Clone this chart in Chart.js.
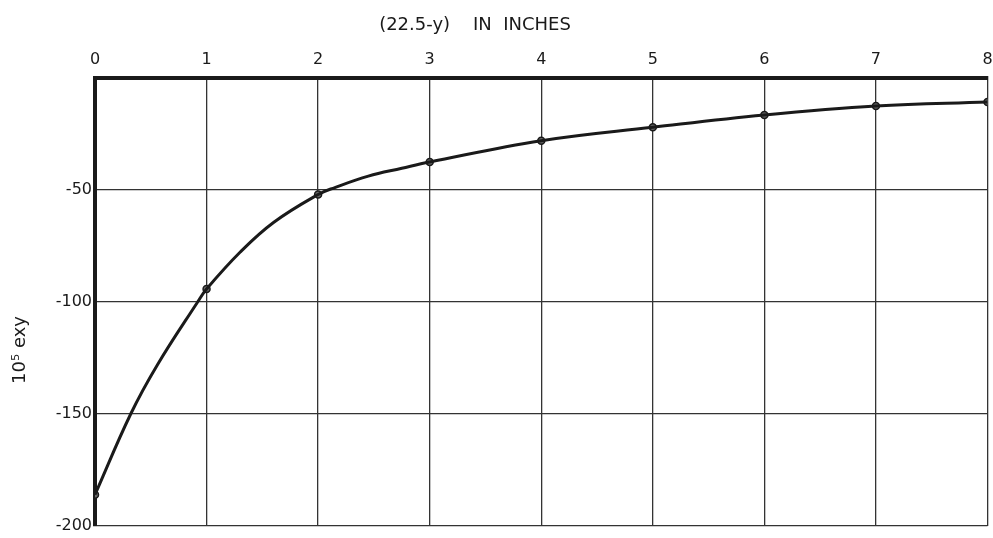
<!DOCTYPE html>
<html>
<head>
<meta charset="utf-8">
<script src="https://cdn.jsdelivr.net/npm/chart.js@4"></script>
<style>
  html, body { margin: 0; padding: 0; background: #fff; }
  #wrap { width: 993px; height: 538px; position: relative; }
</style>
</head>
<body>
<div id="wrap"><canvas id="chart"></canvas></div>
<script>
// ===== Plotted points (markers) =====
const depthInches = [0, 1, 2, 3, 4, 5, 6, 7, 8];
const strainExy = [-186, -94.2, -52, -37.5, -28, -22, -16.5, -12.5, -10.7];

// ===== Drawn curve =====
const curveX = [0, 0.32, 0.56, 0.92, 1.0, 1.3, 1.6, 2.0, 2.15, 2.45, 2.75, 3, 4, 5, 6, 7, 8];
const curveY = [-186, -150, -128, -100, -94.2, -77.8, -64.5, -52, -48.9, -43.8, -40.3, -37.5, -28, -22, -16.5, -12.5, -10.7];

// ===== Ticks / labels =====
const xTicks = [0, 1, 2, 3, 4, 5, 6, 7, 8];
const yTicks = [-50, -100, -150, -200];
const xTitle = '(22.5-y)    IN  INCHES';
const yTitle = '10\u2075 exy';

const ink = '#1a1a1a';
const font = "'DejaVu Sans', sans-serif";

// ===== Axis titles drawn on canvas =====
const titlesPlugin = {
  id: 'handTitles',
  afterDraw(chart) {
    const ctx = chart.ctx;
    ctx.save();
    ctx.fillStyle = ink;
    ctx.font = '18px ' + font;
    ctx.textAlign = 'center';
    ctx.textBaseline = 'middle';
    ctx.fillText(xTitle, 475, 25);
    ctx.translate(20, 350);
    ctx.rotate(-Math.PI / 2);
    ctx.fillText(yTitle, 0, 0);
    ctx.restore();
  }
};

document.addEventListener('DOMContentLoaded', () => {
  const curve = curveX.map((x, i) => ({ x, y: curveY[i] }));
  const marks = depthInches.map((x, i) => ({ x, y: strainExy[i] }));

  new Chart(document.getElementById('chart'), {
    type: 'line',
    data: {
      datasets: [{
        data: curve,
        borderColor: ink,
        borderWidth: 3,
        tension: 0.4,
        pointRadius: 0,
        fill: false
      }, {
        data: marks,
        showLine: false,
        pointRadius: 3.5,
        pointBorderWidth: 1.5,
        pointBackgroundColor: '#666',
        pointBorderColor: ink
      }]
    },
    options: {
      responsive: true,
      maintainAspectRatio: false,
      animation: false,
      layout: { padding: { top: 0, right: -4, bottom: 12, left: 0 } },
      plugins: { legend: { display: false }, tooltip: { enabled: false } },
      scales: {
        x: {
          type: 'linear',
          position: 'top',
          min: 0, max: 8,
          afterBuildTicks: (s) => { s.ticks = xTicks.map(v => ({ value: v })); },
          afterFit: (s) => { s.height = 78; s.paddingLeft = 0; s.paddingRight = 0; },
          ticks: { color: ink, font: { family: font, size: 16 }, padding: 9, maxRotation: 0 },
          grid: { color: '#333', lineWidth: 1.3, drawTicks: false },
          border: { color: ink, width: 4 }
        },
        y: {
          type: 'linear',
          min: -200, max: 0,
          afterBuildTicks: (s) => { s.ticks = [0].concat(yTicks).map(v => ({ value: v })); },
          afterFit: (s) => { s.width = 95; s.paddingTop = 0; s.paddingBottom = 0; },
          ticks: {
            color: ink, font: { family: font, size: 16 }, padding: 3,
            callback: (v) => v === 0 ? '' : String(v)
          },
          grid: { color: '#333', lineWidth: 1.3, drawTicks: false },
          border: { color: ink, width: 4 }
        }
      }
    },
    plugins: [titlesPlugin]
  });
});
</script>
</body>
</html>
